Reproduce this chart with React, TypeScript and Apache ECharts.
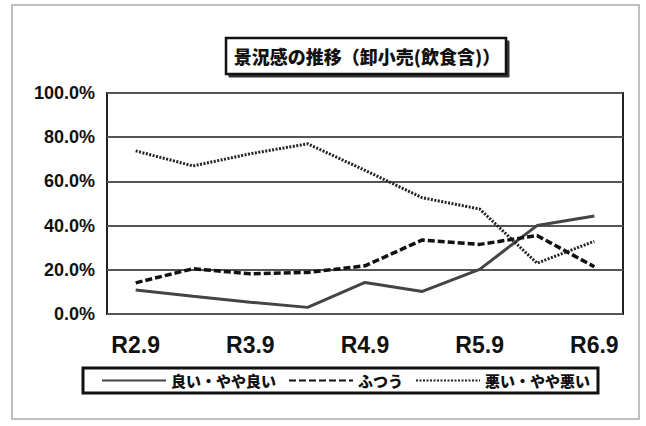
import React, { useEffect, useRef } from "react";
import * as echarts from "echarts";

const categories = ["R2.9", "R3.3", "R3.9", "R4.3", "R4.9", "R5.3", "R5.9", "R6.3", "R6.9"];
const goodValues = [10.9, 8.0, 5.3, 3.0, 14.3, 10.2, 20.2, 40.0, 44.3];
const normalValues = [14.1, 20.5, 18.2, 18.8, 21.8, 33.5, 31.5, 35.5, 21.4];
const badValues = [73.8, 67.0, 72.5, 77.0, 65.0, 52.6, 47.5, 23.0, 32.9];
const seriesNames = ["良い・やや良い", "ふつう", "悪い・やや悪い"];
const titleText = "景況感の推移（卸小売(飲食含)）";

const SANS = '"Liberation Sans", Arial, sans-serif';
const JP = '"Noto Sans CJK JP", "Noto Sans", sans-serif';

function withEndLabel(values: number[], offset: number[]) {
  const last = values.length - 1;
  return values.map((v, i) =>
    i === last
      ? {
          value: v,
          label: {
            show: true,
            position: "right",
            distance: 0,
            offset,
            formatter: (p: any) => p.value.toFixed(1) + "%",
            fontFamily: SANS,
            fontSize: 17,
            fontWeight: "bold",
            color: "#111",
          },
        }
      : v
  );
}

export default function App() {
  const ref = useRef<HTMLDivElement>(null);
  useEffect(() => {
    document.body.style.margin = "0";
    const chart = echarts.init(ref.current!, null, { renderer: "svg" });
    chart.setOption({
      animation: false,
      backgroundColor: "#fff",
      graphic: [
        {
          type: "rect",
          shape: { x: 12, y: 5, width: 627, height: 414 },
          style: { fill: "none", stroke: "#aaa", lineWidth: 1.5 },
          z: 0,
        },
        {
          type: "rect",
          shape: { x: 229, y: 41, width: 280, height: 36 },
          style: { fill: "#333", stroke: "#333", lineWidth: 1 },
          z: 1,
        },
        {
          type: "rect",
          shape: { x: 226, y: 38, width: 280, height: 36 },
          style: { fill: "#fff", stroke: "#111", lineWidth: 2.5 },
          z: 2,
        },
        {
          type: "text",
          x: 367,
          y: 56,
          z: 3,
          style: {
            text: titleText,
            align: "center",
            verticalAlign: "middle",
            fontFamily: JP,
            fontSize: 18,
            fontWeight: 900,
            fill: "#111",
          },
        },
      ],
      legend: {
        data: seriesNames,
        left: 83,
        top: 368,
        orient: "horizontal",
        itemWidth: 64,
        itemHeight: 14,
        itemGap: 12,
        padding: [5, 8, 5, 18],
        borderColor: "#111",
        borderWidth: 3,
        backgroundColor: "#fff",
        itemStyle: { opacity: 0 },
        textStyle: { fontFamily: JP, fontSize: 15, fontWeight: 900, color: "#111" },
      },
      grid: {
        left: 107,
        right: 23,
        top: 93,
        bottom: 112,
        show: true,
        borderColor: "#222",
        borderWidth: 2,
        backgroundColor: "#fff",
      },
      xAxis: {
        type: "category",
        data: categories,
        boundaryGap: true,
        axisLine: { show: false },
        axisTick: { show: false },
        axisLabel: {
          interval: 1,
          margin: 19,
          fontFamily: SANS,
          fontSize: 23,
          fontWeight: "bold",
          color: "#111",
        },
      },
      yAxis: {
        type: "value",
        min: 0,
        max: 100,
        interval: 20,
        axisLine: { show: false },
        axisTick: { show: false },
        splitLine: { lineStyle: { color: "#555", width: 2 } },
        axisLabel: {
          margin: 12,
          fontFamily: SANS,
          fontSize: 18,
          fontWeight: "bold",
          color: "#111",
          formatter: (v: number) => v.toFixed(1) + "%",
        },
      },
      series: [
        {
          name: seriesNames[0],
          type: "line",
          data: withEndLabel(goodValues, [-18, -11]),
          symbol: "none",
          lineStyle: { color: "#444", width: 3, type: "solid" },
          itemStyle: { color: "#444" },
          z: 3,
        },
        {
          name: seriesNames[1],
          type: "line",
          data: withEndLabel(normalValues, [-8, 15]),
          symbol: "none",
          lineStyle: { color: "#111", width: 3.5, type: [7, 3] },
          itemStyle: { color: "#111" },
          z: 3,
        },
        {
          name: seriesNames[2],
          type: "line",
          data: withEndLabel(badValues, [-12, 0]),
          symbol: "none",
          lineStyle: { color: "#222", width: 3, type: [2, 1.5] },
          itemStyle: { color: "#222" },
          z: 3,
        },
      ],
    });
    return () => chart.dispose();
  }, []);
  return <div ref={ref} style={{ width: 646, height: 426 }} />;
}
